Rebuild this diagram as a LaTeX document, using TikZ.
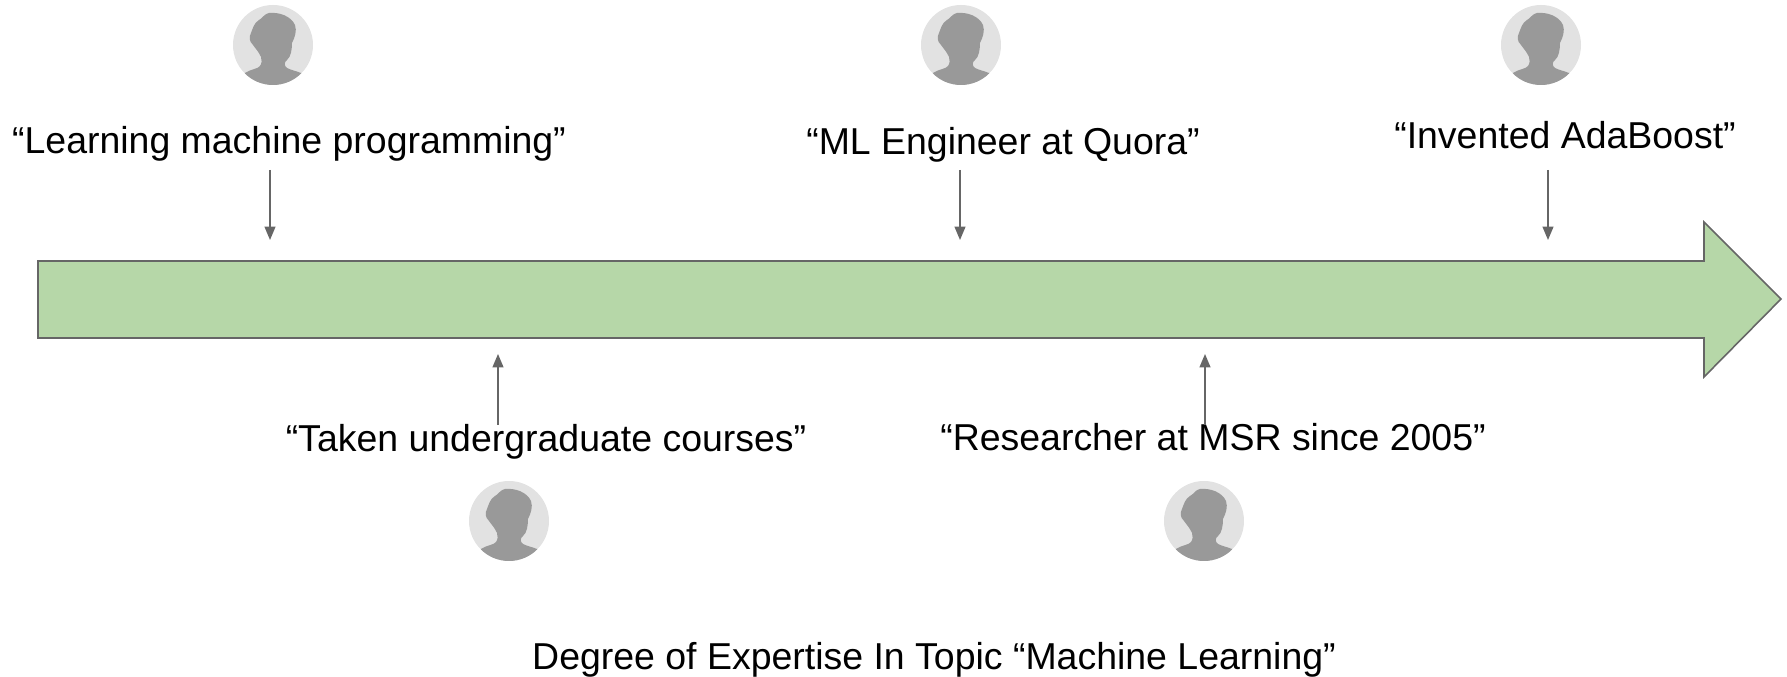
\documentclass[tikz,border=0pt]{standalone}
\usepackage{fontspec}
\setmainfont{Liberation Sans}
\usetikzlibrary{arrows.meta}
\definecolor{barfill}{HTML}{B6D7A8}
\definecolor{edgegray}{HTML}{666666}
\definecolor{discgray}{HTML}{E2E2E2}
\definecolor{headgray}{HTML}{999999}
\tikzset{
  quote/.style={anchor=base, inner sep=0pt, font=\fontsize{10.65pt}{12pt}\selectfont},
  pointer/.style={draw=edgegray, line width=0.4pt, -{Triangle[length=3.8pt,width=3.1pt]}},
  avatar/.pic={
    \fill[discgray] (0,0) circle (40);
    \begin{scope}
      \clip (0,0) circle (40);
      \fill[headgray] (-4,-32) .. controls (6,-33) and (18,-29) .. (22,-20)
        .. controls (24,-14) and (22,-8) .. (19,-2)
        .. controls (19,4) and (18,12) .. (14,15)
        .. controls (11,17) and (11,21) .. (14,23)
        .. controls (18,25) and (23,26) .. (28,28)
        -- (28,45) -- (-28,45) -- (-28,28)
        .. controls (-22,24) and (-15,24) .. (-13,21)
        .. controls (-11,18) and (-11,15) .. (-12,12)
        .. controls (-14,7) and (-18,3) .. (-20,0)
        .. controls (-24,-4) and (-24,-8) .. (-22,-12)
        .. controls (-20,-17) and (-19,-22) .. (-14,-25)
        .. controls (-10,-27) and (-9,-31) .. (-4,-32) -- cycle;
    \end{scope}
  }
}
\begin{document}
\begin{tikzpicture}[x=0.01cm, y=-0.01cm]
  \useasboundingbox (0,0) rectangle (1787,677);
  % timeline
  \draw[fill=barfill, draw=edgegray, line width=0.45pt] (38,261) -- (1704,261) -- (1704,222) -- (1781,299)
    -- (1704,377) -- (1704,338) -- (38,338) -- cycle;
  % avatars
  \pic at (273,45) {avatar};
  \pic at (961,45) {avatar};
  \pic at (1541,45) {avatar};
  \pic at (509,521) {avatar};
  \pic at (1204,521) {avatar};
  % labels
  \node[quote] (learning) at (289,154) {“Learning machine programming”};
  \node[quote] (engineer) at (1003,155) {“ML Engineer at Quora”};
  \node[quote] (invented) at (1565,149) {“Invented AdaBoost”};
  \node[quote] (courses) at (546,452) {“Taken undergraduate courses”};
  \node[quote] (researcher) at (1213,451) {“Researcher at MSR since 2005”};
  \node[quote] (degree) at (934,670) {Degree of Expertise In Topic “Machine Learning”};
  % pointers
  \coordinate (learningtop) at (270,170);
  \coordinate (learningend) at (270,240);
  \coordinate (engineertop) at (960,170);
  \coordinate (engineerend) at (960,240);
  \coordinate (inventedtop) at (1548,170);
  \coordinate (inventedend) at (1548,240);
  \coordinate (coursesfoot) at (498,425);
  \coordinate (coursesend) at (498,354);
  \coordinate (researcherfoot) at (1205,425);
  \coordinate (researcherend) at (1205,354);
  \draw[pointer] (learningtop) -- (learningend);
  \draw[pointer] (engineertop) -- (engineerend);
  \draw[pointer] (inventedtop) -- (inventedend);
  \draw[pointer] (coursesfoot) -- (coursesend);
  \draw[pointer] (researcherfoot) -- (researcherend);
\end{tikzpicture}
\end{document}
